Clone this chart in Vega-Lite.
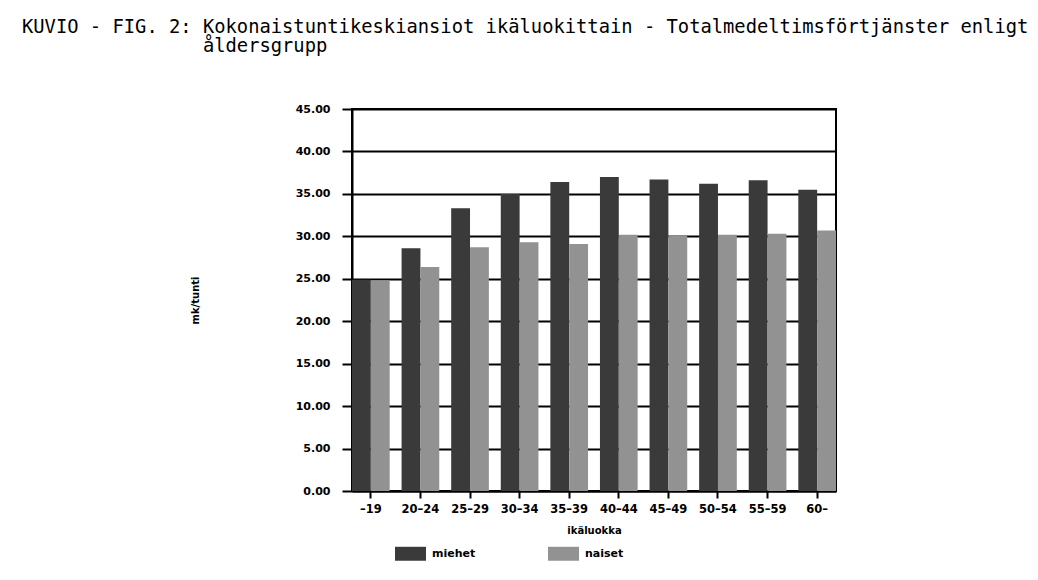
{
  "$schema": "https://vega.github.io/schema/vega-lite/v6.json",
  "width": 484,
  "height": 382,
  "autosize": {"type": "none"},
  "padding": {"left": 352, "top": 109, "right": 202, "bottom": 89},
  "background": "white",
  "title": {
    "text": ["KUVIO - FIG. 2: Kokonaistuntikeskiansiot ikäluokittain - Totalmedeltimsförtjänster enligt", "\u200b\u00a0\u00a0\u00a0\u00a0\u00a0\u00a0\u00a0\u00a0\u00a0\u00a0\u00a0\u00a0\u00a0\u00a0\u00a0\u00a0åldersgrupp"],
    "anchor": "start",
    "frame": "group",
    "dx": -330,
    "offset": 47,
    "font": "DejaVu Sans Mono",
    "fontSize": 18.8,
    "fontWeight": "normal",
    "lineHeight": 19,
    "color": "black"
  },
  "data": {
    "values": [
      {"ika": "–19", "sukupuoli": "miehet", "arvo": 24.9},
      {"ika": "–19", "sukupuoli": "naiset", "arvo": 24.8},
      {"ika": "20–24", "sukupuoli": "miehet", "arvo": 28.6},
      {"ika": "20–24", "sukupuoli": "naiset", "arvo": 26.4},
      {"ika": "25–29", "sukupuoli": "miehet", "arvo": 33.3},
      {"ika": "25–29", "sukupuoli": "naiset", "arvo": 28.7},
      {"ika": "30–34", "sukupuoli": "miehet", "arvo": 35.0},
      {"ika": "30–34", "sukupuoli": "naiset", "arvo": 29.3},
      {"ika": "35–39", "sukupuoli": "miehet", "arvo": 36.4},
      {"ika": "35–39", "sukupuoli": "naiset", "arvo": 29.1},
      {"ika": "40–44", "sukupuoli": "miehet", "arvo": 37.0},
      {"ika": "40–44", "sukupuoli": "naiset", "arvo": 30.2},
      {"ika": "45–49", "sukupuoli": "miehet", "arvo": 36.7},
      {"ika": "45–49", "sukupuoli": "naiset", "arvo": 30.1},
      {"ika": "50–54", "sukupuoli": "miehet", "arvo": 36.2},
      {"ika": "50–54", "sukupuoli": "naiset", "arvo": 30.2},
      {"ika": "55–59", "sukupuoli": "miehet", "arvo": 36.6},
      {"ika": "55–59", "sukupuoli": "naiset", "arvo": 30.3},
      {"ika": "60–", "sukupuoli": "miehet", "arvo": 35.5},
      {"ika": "60–", "sukupuoli": "naiset", "arvo": 30.7}
    ]
  },
  "mark": {"type": "bar"},
  "encoding": {
    "x": {
      "field": "ika",
      "type": "nominal",
      "sort": ["–19", "20–24", "25–29", "30–34", "35–39", "40–44", "45–49", "50–54", "55–59", "60–"],
      "scale": {"paddingInner": 0.24, "paddingOuter": 0},
      "axis": {
        "title": "ikäluokka",
        "labelAngle": 0,
        "domainColor": "black",
        "domainWidth": 2,
        "tickColor": "black",
        "tickWidth": 2,
        "tickSize": 7,
        "labelPadding": 5,
        "labelFont": "DejaVu Sans",
        "labelFontWeight": "bold",
        "labelFontSize": 11.5,
        "labelColor": "black",
        "titleFont": "DejaVu Sans",
        "titleFontWeight": "bold",
        "titleFontSize": 10,
        "titleColor": "black",
        "titlePadding": 11
      }
    },
    "xOffset": {"field": "sukupuoli", "type": "nominal", "sort": ["miehet", "naiset"], "scale": {"paddingInner": 0, "paddingOuter": 0}},
    "y": {
      "field": "arvo",
      "type": "quantitative",
      "scale": {"domain": [0, 45], "nice": false},
      "axis": {
        "values": [0, 5, 10, 15, 20, 25, 30, 35, 40, 45],
        "format": ".2f",
        "grid": true,
        "gridColor": "black",
        "gridWidth": 2,
        "gridOpacity": 1,
        "domainColor": "black",
        "domainWidth": 2,
        "tickColor": "black",
        "tickWidth": 2,
        "tickSize": 10,
        "labelPadding": 12,
        "labelFont": "DejaVu Sans",
        "labelFontWeight": "bold",
        "labelFontSize": 11,
        "labelColor": "black",
        "title": "mk/tunti",
        "titleFont": "DejaVu Sans",
        "titleFontWeight": "bold",
        "titleFontSize": 10,
        "titleColor": "black",
        "titlePadding": 95
      }
    },
    "color": {
      "field": "sukupuoli",
      "type": "nominal",
      "scale": {"domain": ["miehet", "naiset"], "range": ["#3a3a3a", "#929292"]},
      "legend": {
        "orient": "none",
        "legendX": 43,
        "legendY": 429,
        "direction": "horizontal",
        "title": null,
        "symbolType": "M-1,-0.45H1V0.45H-1Z",
        "symbolSize": 961,
        "symbolStrokeWidth": 0,
        "labelFont": "DejaVu Sans",
        "labelFontWeight": "bold",
        "labelFontSize": 11,
        "labelColor": "black",
        "labelOffset": 6,
        "columnPadding": 72,
        "padding": 0
      }
    }
  },
  "config": {"view": {"stroke": "black", "strokeWidth": 2}}
}
